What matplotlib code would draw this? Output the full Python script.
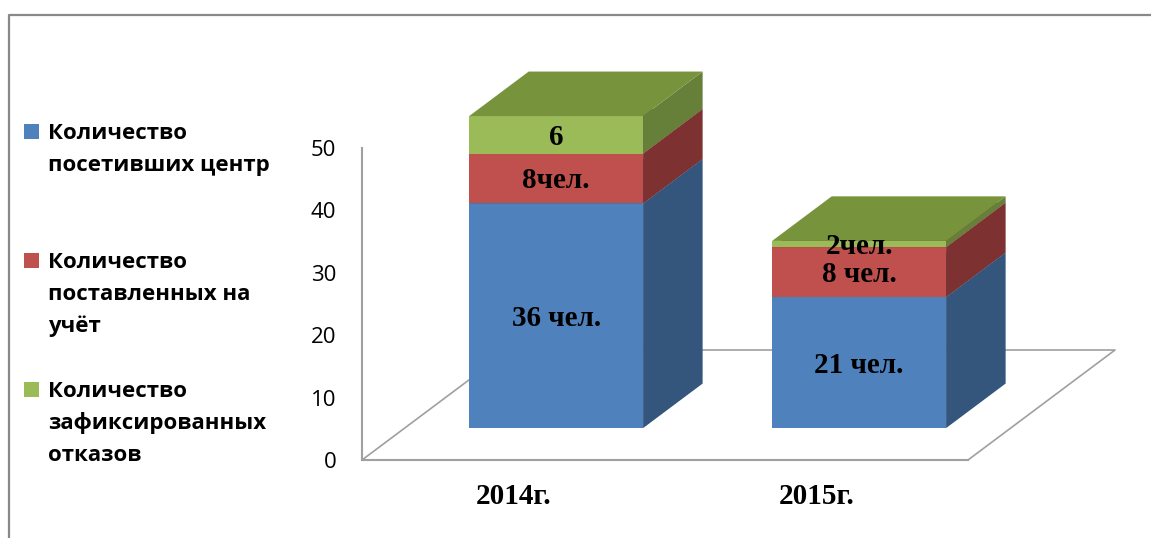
import matplotlib
matplotlib.use("Agg")
import matplotlib.pyplot as plt
from matplotlib.patches import Polygon, Rectangle
from matplotlib.lines import Line2D

# data
years = ['2014г.', '2015г.']
visited = [36, 21]       # Количество посетивших центр
registered = [8, 8]      # Количество поставленных на учёт
refused = [6, 1]         # Количество зафиксированных отказов
visited_labels = ['36 чел.', '21 чел.']
registered_labels = ['8чел.', '8 чел.']
refused_labels = ['6', '2чел.']

legend_lines = [['Количество', 'посетивших центр'],
                ['Количество', 'поставленных на', 'учёт'],
                ['Количество', 'зафиксированных', 'отказов']]

front_cols = ['#4F81BD', '#C0504D', '#9BBB59']
side_cols = ['#34557C', '#7D3231', '#66803A']
top_cols = ['#3F6697', '#99403D', '#77933C']

W, H = 1151, 538
sans = ['Open Sans', 'DejaVu Sans']
serif = ['Liberation Serif', 'DejaVu Serif']

fig = plt.figure(figsize=(W / 100, H / 100), dpi=100)

# outer frame (only top and left visible)
fig.add_artist(Line2D([9 / W, 9 / W, 1], [0, 1 - 15 / H, 1 - 15 / H],
                      color='#888888', lw=1.6, transform=fig.transFigure))

ax = fig.add_axes([362 / W, 1 - 460 / H, 606 / W, 312 / H])
ax.set_xlim(0, 2)
ax.set_ylim(0, 50)
ax.patch.set_visible(False)
for s in ['top', 'right']:
    ax.spines[s].set_visible(False)
for s in ['left', 'bottom']:
    ax.spines[s].set_color('#a0a0a0')
    ax.spines[s].set_linewidth(1.5)

ax.set_yticks(range(0, 51, 10))
ax.tick_params(axis='y', length=0, pad=18.5, labelsize=16)
for t in ax.get_yticklabels():
    t.set_family(sans)
ax.set_xticks([0.5, 1.5])
ax.set_xticklabels(years, family=serif, fontweight='bold', fontsize=21)
ax.tick_params(axis='x', length=0, pad=16.5)

# depth of floor in data units
dxf = 147 / 303.0
dyf = 110 / 6.24
f0, f1 = 0.29, 0.695
w = 0.574

# floor outline
ax.plot([0, dxf, 2 + dxf, 2], [0, dyf, dyf, 0], color='#a0a0a0', lw=1.2,
        clip_on=False, zorder=1)

series = [visited, registered, refused]
series_labels = [visited_labels, registered_labels, refused_labels]
for i in range(len(years)):
    xc = i + 0.5
    x0 = xc - w / 2 + f0 * dxf
    x1 = xc + w / 2 + f0 * dxf
    ox = (f1 - f0) * dxf
    oy = (f1 - f0) * dyf
    bottom = 0
    for k in range(3):
        v = series[k][i]
        b = bottom + f0 * dyf
        t = b + v
        ax.add_patch(Rectangle((x0, b), x1 - x0, v, facecolor=front_cols[k],
                               edgecolor='none', clip_on=False, zorder=3))
        ax.add_patch(Polygon([(x1, b), (x1 + ox, b + oy), (x1 + ox, t + oy), (x1, t)],
                             facecolor=side_cols[k], edgecolor='none',
                             clip_on=False, zorder=3))
        ax.add_patch(Polygon([(x0, t), (x1, t), (x1 + ox, t + oy), (x0 + ox, t + oy)],
                             facecolor=top_cols[k], edgecolor='none',
                             clip_on=False, zorder=3))
        ax.text((x0 + x1) / 2, b + v / 2 - 0.4, series_labels[k][i], ha='center',
                va='center', family=serif, fontweight='bold', fontsize=21,
                zorder=5, clip_on=False)
        bottom += v

# legend
first_baselines = [139, 268, 397]
line_step = 32
for k, lines in enumerate(legend_lines):
    yb = first_baselines[k]
    fig.add_artist(Rectangle((24 / W, 1 - yb / H), 15 / W, 15 / H,
                             facecolor=front_cols[k], edgecolor='none',
                             transform=fig.transFigure))
    for j, line in enumerate(lines):
        fig.text(48 / W, 1 - (yb + j * line_step) / H, line, family=sans,
                 fontweight='bold', fontsize=16, va='baseline', ha='left')

fig.savefig('out.png', dpi=100)
